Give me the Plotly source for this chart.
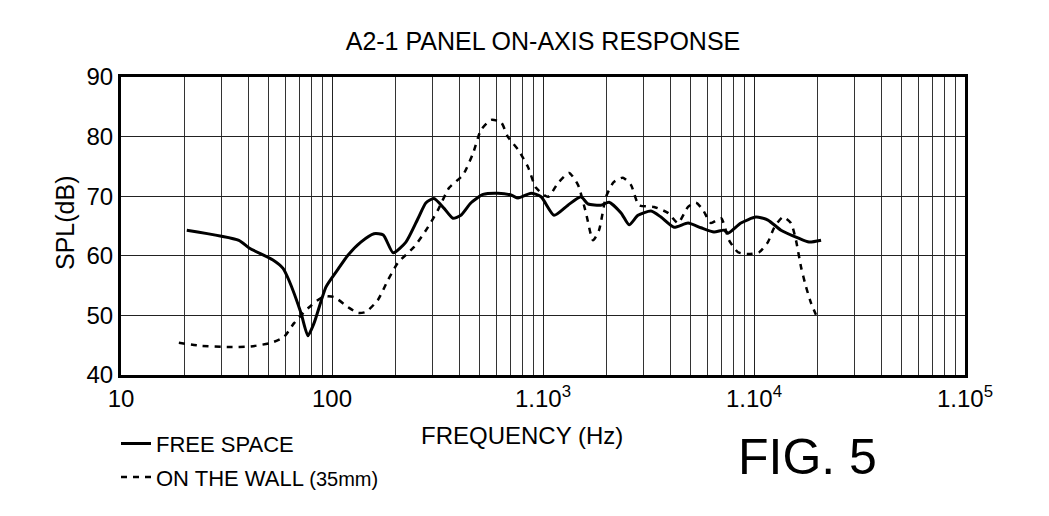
import plotly.graph_objects as go

# FREE SPACE (solid)
free_freq = [20.5, 36.2, 40.5, 52.5, 58.6, 62.5, 71.3, 76.9, 82.2, 93.7, 106, 119, 137, 158, 175,
             195, 224, 256, 279, 304, 339, 374, 408, 456, 520, 612, 705, 762, 878, 979, 1128,
             1313, 1513, 1633, 1883, 2056, 2344, 2560, 2820, 3250, 3623, 4178, 4869, 5606,
             6463, 7210, 7530, 8670, 10210, 11640, 13420, 16150, 18230, 20790]
free_spl = [64.3, 62.6, 61.3, 59.3, 57.9, 55.9, 50.4, 46.6, 48.7, 54.8, 57.6, 60.1, 62.3, 63.7, 63.5,
            60.5, 62.3, 66.3, 68.9, 69.6, 68.0, 66.3, 66.8, 68.9, 70.3, 70.5, 70.2, 69.7, 70.5, 69.9, 66.8,
            68.5, 69.9, 68.7, 68.5, 69.0, 67.2, 65.2, 66.8, 67.5, 66.5, 64.8, 65.5, 64.7,
            64.0, 64.3, 63.8, 65.5, 66.5, 66.0, 64.3, 63.0, 62.3, 62.6]

# ON THE WALL (35mm) (dotted)
wall_freq = [18.8, 23.9, 32.1, 41.3, 51.4, 59.3, 66.1, 76.9, 90.5, 102, 119, 133, 145, 165, 184,
             205, 245, 285, 318, 359, 418, 466, 508, 567, 633, 683, 762, 849, 927, 1057, 1178,
             1328, 1465, 1598, 1726, 1843, 1989, 2168, 2391, 2611, 2850, 3360, 3910, 4364,
             4869, 5309, 5728, 6250, 6980, 7620, 8400, 9371, 10570, 11640, 12450, 13700,
             14960, 15810, 16710, 17640, 18620, 19660]
wall_spl = [45.4, 44.9, 44.7, 44.8, 45.4, 46.4, 48.7, 51.2, 53.1, 53.1, 51.4, 50.4, 50.6, 52.6, 55.9,
            58.8, 61.5, 64.8, 67.7, 71.4, 73.6, 77.2, 81.1, 82.8, 82.4, 79.9, 77.8, 74.9, 71.4, 69.9, 72.2,
            73.9, 71.9, 67.2, 62.6, 64.3, 69.9, 72.4, 73.1, 71.9, 68.5, 68.2, 67.2, 65.5,
            68.2, 68.9, 67.7, 65.5, 66.3, 62.6, 60.6, 60.3, 60.6, 62.3, 64.7, 66.5,
            65.5, 62.6, 58.1, 54.8, 52.1, 50.1]

x_tickvals = [10, 100, 1000, 10000, 100000]
x_ticktext = ["10", "100", "1.10<sup>3</sup>", "1.10<sup>4</sup>", "1.10<sup>5</sup>"]
y_tickvals = [40, 50, 60, 70, 80, 90]

FONT = "Liberation Sans, Arial, Helvetica, sans-serif"

# page has an 8px body margin; plot area target: x 121..965, y 77..375
PW, PH = 844, 298

fig = go.Figure()
fig.add_trace(go.Scatter(x=free_freq, y=free_spl, mode="lines", name="FREE SPACE", legendgroup="a",
                         line=dict(color="black", width=3, shape="spline", smoothing=0.6)))
fig.add_trace(go.Scatter(x=wall_freq, y=wall_spl, mode="lines", legendgroup="b",
                         name="ON THE WALL <span style='font-size:20px'>(35mm)</span>",
                         line=dict(color="black", width=2.5, dash="6px,6px", shape="spline", smoothing=0.6)))

fig.update_layout(
    width=1041, height=508,
    paper_bgcolor="white", plot_bgcolor="white",
    margin=dict(l=113, r=84, t=69, b=141, autoexpand=False),
    font=dict(family=FONT, color="black", size=24),
    title=dict(text="A2-1 PANEL ON-AXIS RESPONSE", x=0.5, xref="paper", xanchor="center",
               y=1 - 33.5 / 508, yanchor="middle", font=dict(size=25, family=FONT)),
    showlegend=True,
    legend=dict(x=-5 / PW, y=-0.16, xanchor="left", yanchor="top", xref="paper", yref="paper",
                bgcolor="rgba(0,0,0,0)", font=dict(size=22, family=FONT),
                itemwidth=30, tracegroupgap=2),
)

fig.update_xaxes(
    type="log", range=[1, 5],
    tickvals=x_tickvals, ticktext=x_ticktext, ticks="", tickfont=dict(size=24),
    showgrid=True, gridcolor="#222", gridwidth=1,
    minor=dict(showgrid=True, dtick="D1", gridcolor="#333", gridwidth=1, ticks=""),
    showline=True, linecolor="black", linewidth=3, mirror=True, zeroline=False,
)
fig.update_yaxes(
    range=[40, 90], tickvals=y_tickvals, ticks="", tickfont=dict(size=24),
    showgrid=True, gridcolor="#222", gridwidth=1,
    showline=True, linecolor="black", linewidth=3, mirror=True, zeroline=False,
)

fig.add_annotation(text="SPL(dB)", xref="paper", yref="paper", x=(65 - 121) / PW, y=0.51,
                   xanchor="center", yanchor="middle", textangle=-90, showarrow=False,
                   font=dict(size=25, family=FONT))
fig.add_annotation(text="FREQUENCY (Hz)", xref="paper", yref="paper", x=(522 - 121) / PW,
                   y=(375 - 435) / PH, xanchor="center", yanchor="middle", showarrow=False,
                   font=dict(size=24, family=FONT))
fig.add_annotation(text="FIG. 5", xref="paper", yref="paper", x=(807 - 121) / PW, y=(375 - 457) / PH,
                   xanchor="center", yanchor="middle", showarrow=False, font=dict(size=50, family=FONT))

fig.write_html("out.html")
